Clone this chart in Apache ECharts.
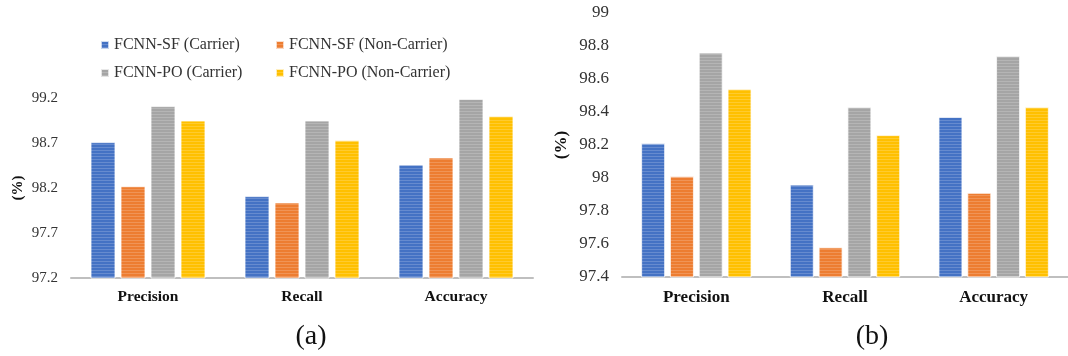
<!DOCTYPE html>
<html>
<head>
<meta charset="utf-8">
<script src="https://cdn.jsdelivr.net/npm/echarts@6/dist/echarts.min.js"></script>
<style>
  html, body { margin: 0; padding: 0; background: #fff; }
  #chart { width: 1068px; height: 356px; }
</style>
</head>
<body>
<div id="chart"></div>
<script>
// Metric categories shared by both panels
const categories = ['Precision', 'Recall', 'Accuracy'];
const seriesNames = ['FCNN-SF (Carrier)', 'FCNN-SF (Non-Carrier)', 'FCNN-PO (Carrier)', 'FCNN-PO (Non-Carrier)'];

// Panel (a) values (%)
const aSfCarrier = [98.71, 98.11, 98.46];
const aSfNonCarrier = [98.22, 98.04, 98.54];
const aPoCarrier = [99.11, 98.95, 99.19];
const aPoNonCarrier = [98.95, 98.73, 99.00];

// Panel (b) values (%)
const bSfCarrier = [98.21, 97.96, 98.37];
const bSfNonCarrier = [98.01, 97.58, 97.91];
const bPoCarrier = [98.76, 98.43, 98.74];
const bPoNonCarrier = [98.54, 98.26, 98.43];

// Tick labels
const aTicks = [97.2, 97.7, 98.2, 98.7, 99.2];
const bTicks = [97.4, 97.6, 97.8, 98, 98.2, 98.4, 98.6, 98.8, 99];

const colors = ['#4472C4', '#ED7D31', '#A5A5A5', '#FFC000'];
const serif = '"Liberation Serif", "Times New Roman", serif';

// faint horizontal line texture on the bars
const stripes = {
  symbol: 'rect',
  symbolSize: 1,
  dashArrayX: [1, 0],
  dashArrayY: [1, 2],
  color: 'rgba(255,255,255,0.18)'
};

function barSeries(name, data, idx, width) {
  return {
    name: name,
    type: 'bar',
    xAxisIndex: idx,
    yAxisIndex: idx,
    data: data,
    barWidth: width,
    barGap: '20%',
    itemStyle: {
      color: colors[seriesNames.indexOf(name)],
      borderColor: 'rgba(255,255,255,0.45)',
      borderWidth: 1,
      decal: stripes
    }
  };
}

function xAxisFor(idx, size, margin) {
  return {
    type: 'category',
    gridIndex: idx,
    data: categories,
    axisLine: { show: true, lineStyle: { color: '#BFBFBF', width: 2 } },
    axisTick: { show: false },
    axisLabel: { fontFamily: serif, fontWeight: 'bold', fontSize: size, color: '#111', margin: margin }
  };
}

function yAxisFor(idx, min, max, ticks, size, gap) {
  return {
    type: 'value',
    gridIndex: idx,
    min: min,
    max: max,
    splitLine: { show: false },
    axisLine: { show: false },
    axisTick: { show: false },
    axisLabel: { customValues: ticks, fontFamily: serif, fontSize: size, color: '#333', margin: 13 },
    name: '(%)',
    nameLocation: 'middle',
    nameGap: gap,
    nameTextStyle: { fontFamily: serif, fontWeight: 'bold', fontSize: size, color: '#111' }
  };
}

function legendAt(name, left, top) {
  return {
    data: [name],
    left: left,
    top: top,
    icon: 'rect',
    itemWidth: 8,
    itemHeight: 8,
    selectedMode: false,
    textStyle: { fontFamily: serif, fontSize: 16, color: '#333' }
  };
}

const chart = echarts.init(document.getElementById('chart'), null, { renderer: 'canvas' });
chart.setOption({
  animation: false,
  title: [
    { text: '(a)', left: 306, top: 318, textAlign: 'center',
      textStyle: { fontFamily: serif, fontWeight: 'normal', fontSize: 28, color: '#111' } },
    { text: '(b)', left: 867, top: 318, textAlign: 'center',
      textStyle: { fontFamily: serif, fontWeight: 'normal', fontSize: 28, color: '#111' } }
  ],
  legend: [
    legendAt(seriesNames[0], 95, 32),
    legendAt(seriesNames[1], 270, 32),
    legendAt(seriesNames[2], 95, 60),
    legendAt(seriesNames[3], 270, 60)
  ],
  grid: [
    { left: 71, top: 98, width: 462, height: 180 },
    { left: 622, top: 13, width: 450, height: 264 }
  ],
  xAxis: [xAxisFor(0, 15.5, 11), xAxisFor(1, 17, 12)],
  yAxis: [yAxisFor(0, 97.2, 99.2, aTicks, 15, 45), yAxisFor(1, 97.4, 99, bTicks, 17, 52)],
  series: [
    barSeries(seriesNames[0], aSfCarrier, 0, 25),
    barSeries(seriesNames[1], aSfNonCarrier, 0, 25),
    barSeries(seriesNames[2], aPoCarrier, 0, 25),
    barSeries(seriesNames[3], aPoNonCarrier, 0, 25),
    barSeries(seriesNames[0], bSfCarrier, 1, 24),
    barSeries(seriesNames[1], bSfNonCarrier, 1, 24),
    barSeries(seriesNames[2], bPoCarrier, 1, 24),
    barSeries(seriesNames[3], bPoNonCarrier, 1, 24)
  ]
});
</script>
</body>
</html>
